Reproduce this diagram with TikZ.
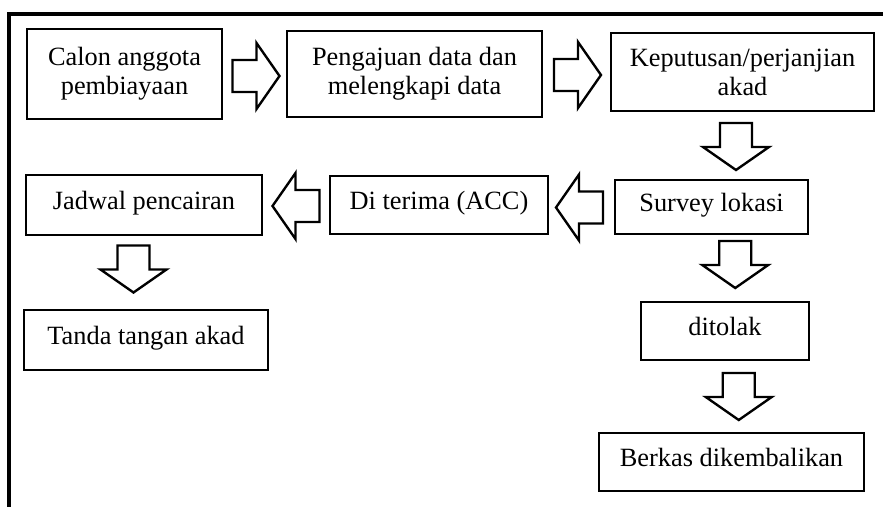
\documentclass[tikz,border=0pt]{standalone}
\usepackage{fontspec}
\setmainfont{Liberation Serif}
\usetikzlibrary{positioning, calc}

\tikzset{
  box/.style={draw, line width=1.6pt, align=center, inner sep=2pt,
    font=\fontsize{15}{16.5}\selectfont},
  onebox/.style={box, text height=0.75em, text depth=0.25em},
  pics/blockarrow/.style={code={
    \draw[line width=1.35pt] (-23.5,-16) -- (0.5,-16) -- (0.5,-33) -- (23.5,0)
      -- (0.5,33) -- (0.5,16) -- (-23.5,16) -- cycle;}}
}

\begin{document}
\begin{tikzpicture}[x=0.02cm, y=-0.02cm]
\useasboundingbox (0,0) rectangle (883,507);
\draw[line width=1.8pt] (883,14) -- (9,14) -- (9,507);

\node[box, minimum width=3.9cm, minimum height=1.8cm] (calon) at (124.5,74) {Calon anggota\\pembiayaan};
\node[box, minimum width=5.1cm, minimum height=1.72cm] (aju) at (414.5,74) {Pengajuan data dan\\melengkapi data};
\node[box, minimum width=5.26cm, minimum height=1.56cm] (kep) at (742.5,72) {Keputusan/perjanjian\\akad};
\node[onebox, minimum width=3.86cm, minimum height=1.08cm] (survey) at (711.5,207) {Survey lokasi};
\node[onebox, minimum width=4.36cm, minimum height=1.16cm] (acc) at (439,205) {Di terima (ACC)};
\node[onebox, minimum width=4.72cm, minimum height=1.2cm] (jadwal) at (144,205) {Jadwal pencairan};
\node[onebox, minimum width=4.88cm, minimum height=1.2cm] (tanda) at (146,340) {Tanda tangan akad};
\node[onebox, minimum width=3.36cm, minimum height=1.16cm] (tolak) at (725,331) {ditolak};
\node[onebox, minimum width=5.3cm, minimum height=1.16cm] (berkas) at (731.5,462) {Berkas dikembalikan};

\pic at ($(calon.east)!.5!(aju.west)+(1.5,2)$) {blockarrow};
\pic at ($(aju.east)!.5!(kep.west)+(1,2)$) {blockarrow};
\pic[rotate=-90] at ($(kep.south)!.5!(survey.north)+(9,1)$) {blockarrow};
\pic[rotate=180] at ($(acc.east)!.5!(survey.west)+(-2,1.5)$) {blockarrow};
\pic[rotate=180] at ($(jadwal.east)!.5!(acc.west)+(0,1)$) {blockarrow};
\pic[rotate=-90] at ($(jadwal.south)!.5!(tanda.north)+(-11.5,-3.5)$) {blockarrow};
\pic[rotate=-90] at ($(survey.south)!.5!(tolak.north)+(17,-3.5)$) {blockarrow};
\pic[rotate=-90] at ($(tolak.south)!.5!(berkas.north)+(10.5,0)$) {blockarrow};
\end{tikzpicture}
\end{document}
